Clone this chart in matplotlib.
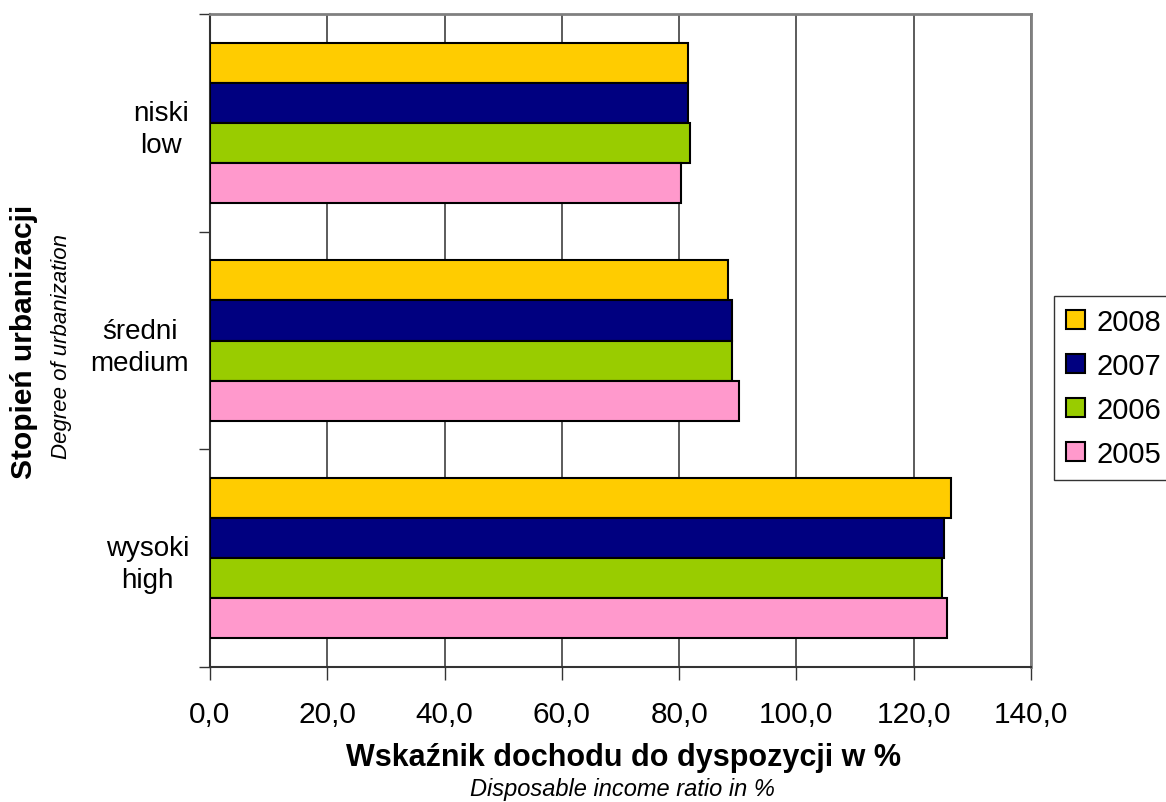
import matplotlib
matplotlib.use("Agg")
import matplotlib.pyplot as plt
import numpy as np
from matplotlib.ticker import FuncFormatter

plt.rcParams['font.family'] = ['Liberation Sans', 'DejaVu Sans']

categories = ["niski\nlow", "średni\nmedium", "wysoki\nhigh"]
years = ["2008", "2007", "2006", "2005"]
colors = ["#FFCC00", "#000080", "#99CC00", "#FF99CC"]

v2008 = [81.5, 88.3, 126.3]
v2007 = [81.5, 89.1, 125.2]
v2006 = [81.8, 89.0, 124.8]
v2005 = [80.4, 90.2, 125.6]
values = [v2008, v2007, v2006, v2005]

fig = plt.figure(figsize=(11.66, 8.03), dpi=100)
ax = fig.add_axes([0.1801, 0.1681, 0.7041, 0.8132])

h = 0.184
y = np.arange(len(categories))
for i, (yr, vals, c) in enumerate(zip(years, values, colors)):
    pos = y - 1.5 * h + i * h
    ax.barh(pos, vals, height=h, color=c, edgecolor='black', linewidth=1.5,
            label=yr, zorder=3)

ax.set_xlim(0, 140)
ax.set_ylim(2.5, -0.5)
ax.set_xticks(np.arange(0, 141, 20))
ax.xaxis.set_major_formatter(FuncFormatter(lambda v, p: f"{v:.1f}".replace('.', ',')))
ax.tick_params(axis='x', labelsize=21.5, length=9, width=1, color='#333333', pad=15)
ax.grid(axis='x', color='#404040', linewidth=1.2, zorder=0)

ax.set_yticks([-0.5, 0.5, 1.5, 2.5])
ax.set_yticklabels([])
ax.tick_params(axis='y', which='major', length=8, width=1, color='#333333')
ax.set_yticks(y, minor=True)
ax.set_yticklabels(categories, minor=True, fontsize=20, multialignment='center',
                   linespacing=1.3)
ax.tick_params(axis='y', which='minor', length=0, pad=15)

for s in ['top', 'right']:
    ax.spines[s].set_color('#808080')
    ax.spines[s].set_linewidth(2)
for s in ['left', 'bottom']:
    ax.spines[s].set_color('#333333')
    ax.spines[s].set_linewidth(1.5)

fig.text(0.535, 0.056, "Wskaźnik dochodu do dyspozycji w %", ha='center', va='center',
         fontsize=22, fontweight='bold')
fig.text(0.534, 0.017, "Disposable income ratio in %", ha='center', va='center',
         fontsize=17, style='italic')
fig.text(0.021, 0.574, "Stopień urbanizacji", rotation=90, ha='center', va='center',
         fontsize=21.5, fontweight='bold')
fig.text(0.053, 0.569, "Degree of urbanization", rotation=90, ha='center', va='center',
         fontsize=16, style='italic')

leg = fig.legend(loc='upper left', bbox_to_anchor=(0.904, 0.630), fontsize=21,
                 frameon=True, fancybox=False, edgecolor='black', handlelength=0.65,
                 handleheight=0.65, handletextpad=0.4, labelspacing=0.55,
                 borderpad=0.4, borderaxespad=0)
leg.get_frame().set_linewidth(1)

fig.savefig("out.png", dpi=100)
